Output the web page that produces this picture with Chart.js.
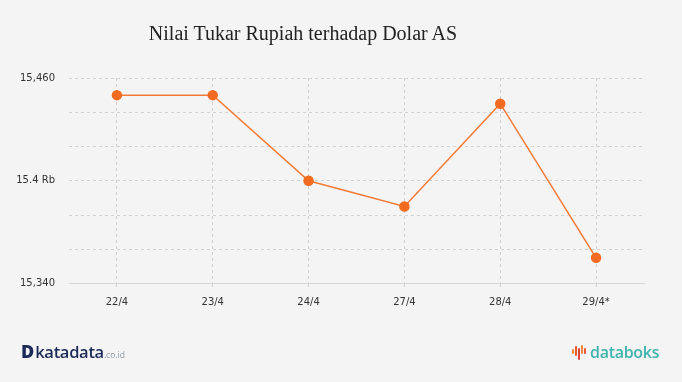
<!DOCTYPE html>
<html>
<head>
<meta charset="utf-8">
<script src="https://cdn.jsdelivr.net/npm/chart.js@4/dist/chart.umd.min.js"></script>
<style>
  html, body { margin:0; padding:0; background:#f4f4f4; }
  #wrap { position:relative; width:682px; height:382px; background:#f4f4f4; overflow:hidden; }
  #chartBox { position:absolute; left:0; top:0; width:682px; height:382px; }
  #title { position:absolute; left:0; width:606px; top:22px; text-align:center;
           font-family:"Liberation Serif","DejaVu Serif",serif; font-size:20px; color:#222; }
  #kd { position:absolute; left:21px; top:339px; font-family:"Open Sans","DejaVu Sans",sans-serif; color:#1b2a57; }
  #kd .d { font-weight:800; font-size:18px; margin-right:1px; }
  #kd .t { font-weight:600; font-size:16.5px; letter-spacing:-0.3px; }
  #kd .s { font-size:8.5px; color:#8d9ba6; }
  #db { position:absolute; left:571px; top:339px; font-family:"Open Sans","DejaVu Sans",sans-serif; }
  #db .ic { display:inline-block; position:relative; width:19px; height:16px; vertical-align:middle; }
  #db .ic i { position:absolute; width:2px; border-radius:1px; }
  #db .t { font-weight:600; font-size:16px; color:#3fb3ad; vertical-align:middle; letter-spacing:-0.3px; }
</style>
</head>
<body>
<div id="wrap">
  <div id="chartBox"><canvas id="c"></canvas></div>
  <div id="title">Nilai Tukar Rupiah terhadap Dolar AS</div>
  <div id="kd"><span class="d">D</span><span class="t">katadata</span><span class="s">.co.id</span></div>
  <div id="db"><span class="ic">
    <i style="left:1px;top:5px;height:5px;background:#f0853a"></i>
    <i style="left:4px;top:2px;height:10px;background:#e8582f"></i>
    <i style="left:7px;top:4px;height:12px;background:#d9433a"></i>
    <i style="left:10px;top:1px;height:9px;background:#f0853a"></i>
    <i style="left:13px;top:4px;height:6px;background:#e8582f"></i>
  </span><span class="t">databoks</span></div>
</div>
<script>
const categories = ["22/4", "23/4", "24/4", "27/4", "28/4", "29/4*"];
const rateValues = [15450, 15450, 15400, 15385, 15445, 15355];
const yTickValues = [15340, 15400, 15460];
const yTickLabels = ["15,340", "15.4 Rb", "15,460"];

const ctx = document.getElementById('c');
new Chart(ctx, {
  type: 'line',
  data: {
    labels: categories,
    datasets: [{
      data: rateValues,
      borderColor: '#f37a35',
      backgroundColor: '#f26b21',
      pointBackgroundColor: '#f26b21',
      pointBorderColor: '#f26b21',
      borderWidth: 1.5,
      pointRadius: 4.5,
      tension: 0,
      fill: false
    }]
  },
  options: {
    responsive: true,
    maintainAspectRatio: false,
    animation: false,
    layout: { padding: { left: 0, right: 38, top: 78, bottom: 0 } },
    plugins: { legend: { display: false }, tooltip: { enabled: false }, title: { display: false } },
    scales: {
      x: {
        offset: true,
        afterFit: (s) => { s.height = 98.5; },
        grid: {
          offset: false,
          color: '#cfcfcf',
          tickBorderDash: [3, 3],
          tickLength: 6,
          tickColor: '#cfcfcf'
        },
        border: { display: true, color: '#d8d8d8', width: 1, dash: [3, 3] },
        ticks: {
          color: '#333',
          font: { family: 'DejaVu Sans', size: 10 },
          padding: 7,
          maxRotation: 0
        }
      },
      y: {
        min: 15340,
        max: 15460,
        afterFit: (s) => { s.width = 69; },
        grid: {
          color: (c) => c.tick && c.tick.value === 15340 ? 'rgba(0,0,0,0)' : '#d2d2d2',
          drawTicks: false
        },
        border: { display: false, dash: [3, 3] },
        ticks: {
          stepSize: 20,
          color: '#333',
          padding: 14,
          font: { family: 'DejaVu Sans', size: 10 },
          callback: (v) => {
            const i = yTickValues.indexOf(v);
            return i >= 0 ? yTickLabels[i] : '';
          }
        }
      }
    }
  }
});
</script>
</body>
</html>
